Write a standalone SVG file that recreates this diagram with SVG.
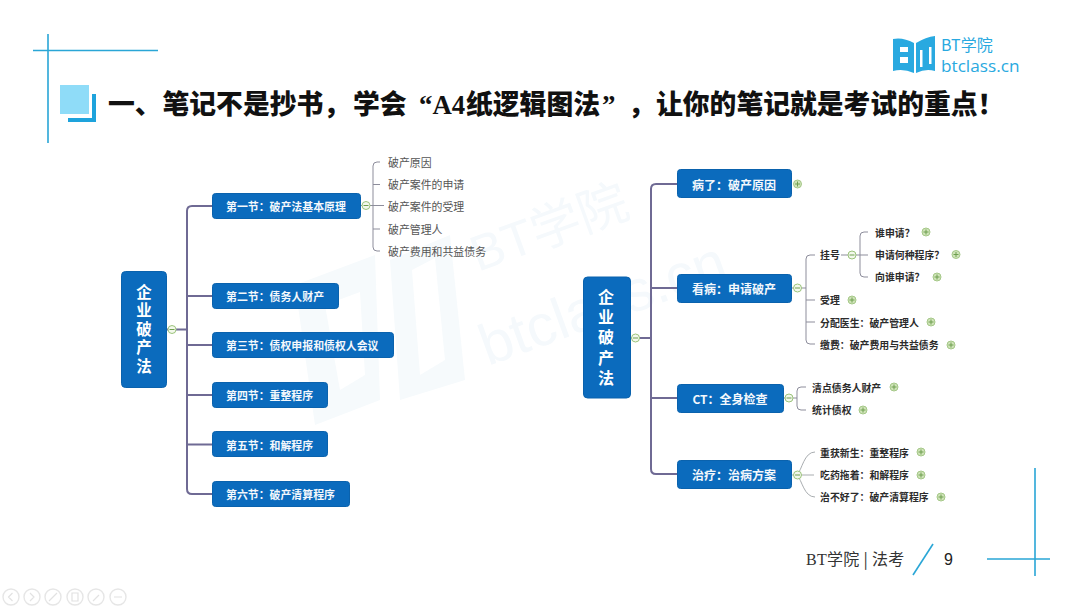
<svg xmlns="http://www.w3.org/2000/svg" width="1080" height="608" viewBox="0 0 1080 608">
<style>
text{font-family:"Noto Sans CJK SC","Noto Sans",sans-serif}
.box{fill:#0b6bbd;stroke:#0a62ad;stroke-width:1}
.sec{fill:#f4f8fc;font-size:10.900px;font-weight:700;dominant-baseline:central}
.big{fill:#f4f8fc;font-size:12px;font-weight:700;text-anchor:middle;dominant-baseline:central}
.root{fill:#fff;font-weight:700;writing-mode:vertical-rl}
.item{fill:#555;font-size:10.900px;dominant-baseline:central}
.leaf{fill:#2c2c2c;font-size:9.900px;font-weight:700;dominant-baseline:central}
.main{fill:none;stroke:#6f6a94;stroke-width:2}
.sub{fill:none;stroke:#8d8d9b;stroke-width:1}
.cur{fill:none;stroke:#a9adb0;stroke-width:1}
.deco{stroke:#2aa6d6;stroke-width:1.6;fill:none}
.ctl{fill:#fff;stroke:#e6e6e6;stroke-width:1.4}
.wm{fill:#f5f9fc}
.c1{fill:#cfe3b8;stroke:#a5c888;stroke-width:1}
.c2{stroke:#6f9f50;stroke-width:1}
.ser{font-family:"Liberation Serif",serif;font-weight:700}
</style>
<defs>
<g id="plus"><circle class="c1" r="4"/><path class="c2" d="M-2.500 0H2.500M0-2.500V2.500"/></g>
<g id="minus"><circle r="4" fill="#f3f8ec" stroke="#9cc47c"/><path class="c2" d="M-2.500 0H2.500"/></g>
</defs>
<rect width="1080" height="608" fill="#fff"/>

<g id="watermark">
<text class="wm" transform="translate(478 272) rotate(-20)" font-size="50" style="font-family:'Liberation Sans','Noto Sans CJK SC',sans-serif">BT学院</text>
<text class="wm" transform="translate(488 366) rotate(-20)" font-size="58" style="font-family:'Liberation Sans',sans-serif">btclass.cn</text>
<path d="M295 285L375 255L380 400L315 425ZM390 260L450 235L465 380L400 400Z" fill="#f6fafc"/>
<path d="M325 305L360 292L365 375L340 390ZM412 270L435 258L445 360L420 375Z" fill="#fff"/>
</g>

<g id="decor">
<path class="deco" d="M48 34V143M33 50.500H158"/>
<rect x="60" y="85" width="29" height="29" fill="#8fdcf8"/>
<path d="M92 94H96V122H68V118H92Z" fill="#1ea3dc"/>
<path class="deco" d="M1035 468V576M987 559H1050"/>
<path class="deco" d="M913 575L933 544"/>
</g>

<g id="title">
<text y="114" font-size="26.800" font-weight="900" fill="#111"><tspan x="108">一、</tspan><tspan x="162.500">笔记不是抄书&#xFF0C;</tspan><tspan x="353">学会</tspan><tspan x="419" class="ser">&#x201C;A4</tspan><tspan x="466">纸逻辑图法</tspan><tspan x="602" class="ser">&#x201D;</tspan><tspan x="628">&#xFF0C;</tspan><tspan x="656">让你的笔记就是考试的重点&#xFF01;</tspan></text>
</g>

<g id="logo">
<path d="M893 39Q903 37 914 43V73Q903 68 893 71ZM916 43Q926 37 935 36V71Q926 68 916 73Z" fill="#29a9e0"/>
<path d="M900 47H908V52H900ZM900 57H908V63H900ZM920 50H922.500V67H920ZM929 47H931.500V64H929Z" fill="#fff"/>
<text fill="#29a9e0"><tspan x="941" y="50.500" font-size="16">BT学院</tspan><tspan x="941" y="71.500" font-size="17.200" style="font-family:'Open Sans',sans-serif">btclass.cn</tspan></text>
</g>

<g id="connectors">
<path class="main" d="M167 329.500H187M212 206H192Q187 206 187 211V489Q187 494 192 494H212M187 296H212M187 345H212M187 395H212M187 444.500H212"/>
<path class="sub" d="M361 205.500H384M380 162H377Q373 162 373 166V247Q373 251 377 251H380M373 184.500H380M373 229H380"/>
<path class="main" d="M630 338H651M677 184H656Q651 184 651 189V469Q651 474 656 474H677M651 288H677M651 398H677"/>
<path class="sub" d="M792 288H806M815 255H810Q806 255 806 259V340Q806 344 810 344H815M806 300H815M806 322H815"/>
<path class="sub" d="M841 255H868M868 232H864Q860 232 860 236V273Q860 277 864 277H868"/>
<path class="sub" d="M784 398H797M806 387H801Q797 387 797 391V406Q797 410 801 410H806"/>
<path class="cur" d="M792 475H814M797 475C802 470 804 452 815 452M797 475C802 480 804 497 815 497"/>
</g>

<g id="left-root"><rect class="box" x="121.500" y="271.500" width="45" height="116" rx="4"/>
<text class="root" x="144" y="284" style="font-size:15.500px;letter-spacing:3px">企业破产法</text>
<use href="#minus" x="172" y="329.500"/></g>
<g id="l1"><rect class="box" x="212.500" y="193.500" width="148" height="25" rx="3"/><text class="sec" x="226" y="206">第一节&#xFF1A;破产法基本原理</text><use href="#minus" x="366" y="205.500"/></g>
<g id="l2"><rect class="box" x="212.500" y="283.500" width="126" height="25" rx="3"/><text class="sec" x="226" y="296">第二节&#xFF1A;债务人财产</text></g>
<g id="l3"><rect class="box" x="212.500" y="332.500" width="181" height="25" rx="3"/><text class="sec" x="226" y="345">第三节&#xFF1A;债权申报和债权人会议</text></g>
<g id="l4"><rect class="box" x="212.500" y="382.500" width="115" height="25" rx="3"/><text class="sec" x="226" y="395">第四节&#xFF1A;重整程序</text></g>
<g id="l5"><rect class="box" x="212.500" y="431.500" width="115" height="25" rx="3"/><text class="sec" x="226" y="444.500">第五节&#xFF1A;和解程序</text></g>
<g id="l6"><rect class="box" x="212.500" y="481.500" width="137" height="25" rx="3"/><text class="sec" x="226" y="494">第六节&#xFF1A;破产清算程序</text></g>
<g id="l1-items">
<text class="item" x="388" y="161.500">破产原因</text>
<text class="item" x="388" y="184">破产案件的申请</text>
<text class="item" x="388" y="206">破产案件的受理</text>
<text class="item" x="388" y="228.500">破产管理人</text>
<text class="item" x="388" y="251">破产费用和共益债务</text>
</g>

<g id="right-root"><rect class="box" x="583.500" y="277" width="47" height="121" rx="4"/>
<text class="root" x="606" y="289" style="font-size:16px;letter-spacing:4.200px">企业破产法</text>
<use href="#minus" x="635.500" y="338"/></g>
<g id="r1"><rect class="box" x="677.500" y="169.500" width="114" height="28" rx="3"/><text class="big" x="734" y="184">病了&#xFF1A;破产原因</text><use href="#plus" x="797.500" y="184"/></g>
<g id="r2"><rect class="box" x="677.500" y="274.500" width="114" height="28" rx="3"/><text class="big" x="734" y="288.500">看病&#xFF1A;申请破产</text><use href="#minus" x="797.500" y="288"/></g>
<g id="r3"><rect class="box" x="677.500" y="384.500" width="106" height="28" rx="3"/><text class="big" x="730" y="398">CT&#xFF1A;全身检查</text><use href="#minus" x="789" y="398"/></g>
<g id="r4"><rect class="box" x="677.500" y="460.500" width="114" height="28" rx="3"/><text class="big" x="734" y="474.500">治疗&#xFF1A;治病方案</text><use href="#minus" x="797.500" y="475"/></g>

<g id="r2-items">
<text class="leaf" x="820" y="255">挂号</text><use href="#minus" x="852" y="255"/>
<text class="leaf" x="820" y="300">受理</text><use href="#plus" x="852" y="300"/>
<text class="leaf" x="820" y="322.500">分配医生&#xFF1A;破产管理人</text><use href="#plus" x="931" y="322"/>
<text class="leaf" x="820" y="345">缴费&#xFF1A;破产费用与共益债务</text><use href="#plus" x="951" y="345"/>
<text class="leaf" x="875" y="233">谁申请&#xFF1F;</text><use href="#plus" x="926" y="232"/>
<text class="leaf" x="875" y="255">申请何种程序&#xFF1F;</text><use href="#plus" x="956" y="254.500"/>
<text class="leaf" x="875" y="277">向谁申请&#xFF1F;</text><use href="#plus" x="937" y="277"/>
</g>
<g id="r3-items">
<text class="leaf" x="812" y="387.500">清点债务人财产</text><use href="#plus" x="894" y="387"/>
<text class="leaf" x="812" y="410">统计债权</text><use href="#plus" x="863" y="410"/>
</g>
<g id="r4-items">
<text class="leaf" x="820" y="452.500">重获新生&#xFF1A;重整程序</text><use href="#plus" x="921" y="452"/>
<text class="leaf" x="820" y="475">吃药拖着&#xFF1A;和解程序</text><use href="#plus" x="921" y="475"/>
<text class="leaf" x="820" y="497">治不好了&#xFF1A;破产清算程序</text><use href="#plus" x="941" y="497"/>
</g>

<g id="footer">
<text x="806" y="565" font-size="16" fill="#333" letter-spacing="0.300"><tspan style="font-family:'Liberation Serif',serif">BT</tspan>学院 | 法考</text>
<text x="944" y="565" font-size="16" fill="#222" style="font-family:'Liberation Sans',sans-serif">9</text>
</g>

<g id="player-controls">
<circle class="ctl" cx="11" cy="597" r="8"/><circle class="ctl" cx="32" cy="597" r="8"/><circle class="ctl" cx="53" cy="597" r="8"/><circle class="ctl" cx="75" cy="597" r="8"/><circle class="ctl" cx="96" cy="597" r="8"/><circle class="ctl" cx="118" cy="597" r="8"/>
<path d="M12.500 593L8.500 597L12.500 601M30 593L34 597L30 601M49 601L57 593M72 593H78V601H72ZM93 601L99 595M114 597H122" fill="none" stroke="#e2e2e2" stroke-width="1.2"/>
</g>
</svg>
